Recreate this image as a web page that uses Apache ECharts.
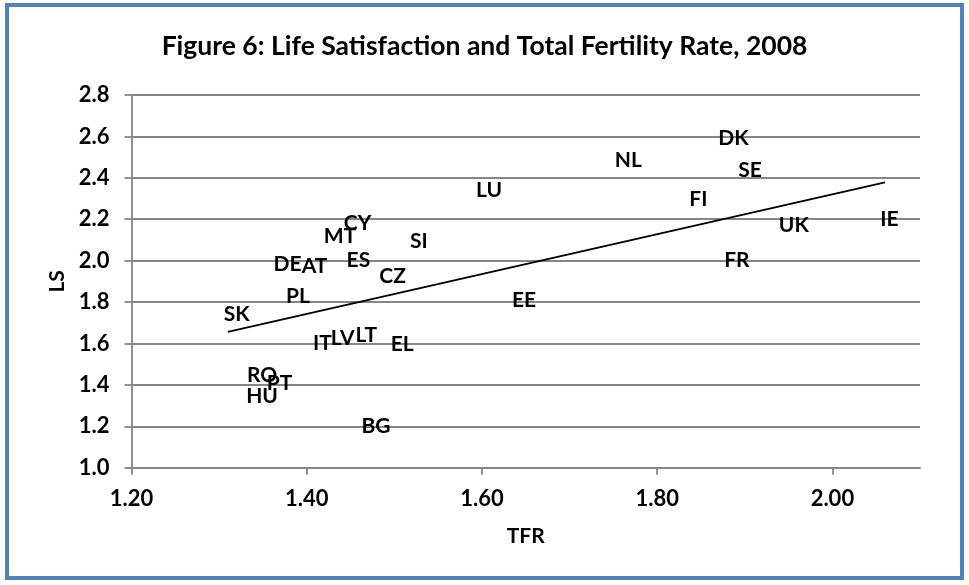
<!DOCTYPE html>
<html><head><meta charset="utf-8">
<script src="https://cdn.jsdelivr.net/npm/echarts@6/dist/echarts.min.js"></script>
<style>html,body{margin:0;padding:0;background:#fff}#c{width:969px;height:585px}</style>
</head><body><div id="c"></div>
<script>
// Data
var countries = ['DK','SE','NL','FI','LU','UK','IE','FR','CY','MT','SI','DE','AT','ES','CZ','PL','SK','EE','IT','LV','LT','EL','RO','PT','HU','BG'];
var tfr = [1.887,1.906,1.767,1.847,1.608,1.956,2.065,1.891,1.458,1.438,1.528,1.378,1.409,1.459,1.498,1.390,1.320,1.648,1.418,1.441,1.468,1.509,1.349,1.369,1.349,1.479];
var ls  = [2.591,2.438,2.483,2.297,2.338,2.169,2.200,2.003,2.182,2.119,2.095,1.984,1.971,2.003,1.923,1.829,1.742,1.810,1.601,1.625,1.641,1.596,1.448,1.408,1.343,1.201];
var trendX = [1.31, 2.06];
var trendY = [1.656, 2.378];
var xTicks = [1.2, 1.4, 1.6, 1.8, 2.0];

var pts = countries.map(function(c,i){ return [tfr[i], ls[i], c]; });
var trend = trendX.map(function(x,i){ return [x, trendY[i]]; });

var F = 'Lato';
var chart = echarts.init(document.getElementById('c'));
chart.setOption({
  animation: false,
  backgroundColor: '#fff',
  title: {
    text: 'Figure 6: Life Satisfaction and Total Fertility Rate, 2008',
    left: 'center', top: 28,
    textStyle: {fontFamily: F, fontWeight: 'bold', fontSize: 26.5, color: '#000'}
  },
  graphic: [{
    type: 'rect', silent: true, z: 100,
    shape: {x: 7, y: 5, width: 955, height: 573},
    style: {fill: 'none', stroke: '#4F81BD', lineWidth: 4}
  }],
  grid: {left: 131.5, right: 49, top: 95, bottom: 117.3, containLabel: false},
  xAxis: {
    type: 'value', min: 1.2, max: 2.1, interval: 0.2,
    name: 'TFR', nameLocation: 'middle', nameGap: 58,
    nameTextStyle: {fontFamily: F, fontWeight: 'bold', fontSize: 21, color: '#000'},
    axisLine: {show: true, onZero: false, lineStyle: {color: '#868686', width: 1.8}},
    axisTick: {show: true, length: 7, lineStyle: {color: '#868686', width: 1.8}, customValues: xTicks},
    splitLine: {show: false},
    axisLabel: {fontFamily: F, fontWeight: 'bold', fontSize: 22, color: '#000', margin: 20,
      customValues: xTicks,
      formatter: function(v){ return v.toFixed(2); }}
  },
  yAxis: {
    type: 'value', min: 1.0, max: 2.8, interval: 0.2,
    name: 'LS', nameLocation: 'middle', nameGap: 64, nameRotate: 90,
    nameTextStyle: {fontFamily: F, fontWeight: 'bold', fontSize: 21, color: '#000'},
    axisLine: {show: true, onZero: false, lineStyle: {color: '#868686', width: 1.8}},
    axisTick: {show: true, length: 7, lineStyle: {color: '#868686', width: 1.8}},
    splitLine: {show: true, lineStyle: {color: '#868686', width: 1.8}},
    axisLabel: {fontFamily: F, fontWeight: 'bold', fontSize: 22, color: '#000', margin: 22,
      formatter: function(v){ return v.toFixed(1); }}
  },
  series: [{
    type: 'scatter', data: pts, symbol: 'circle', symbolSize: 1,
    itemStyle: {color: 'rgba(0,0,0,0)'},
    label: {show: true, position: 'inside', fontFamily: F, fontWeight: 'bold', fontSize: 21,
      color: '#000', opacity: 1, textBorderWidth: 0, textBorderColor: 'rgba(0,0,0,0)',
      formatter: function(p){ return p.data[2]; }},
    labelLayout: {hideOverlap: false},
    z: 3
  },{
    type: 'line', data: trend, symbol: 'none', lineStyle: {color: '#000', width: 2}, z: 2
  }]
});
</script></body></html>
